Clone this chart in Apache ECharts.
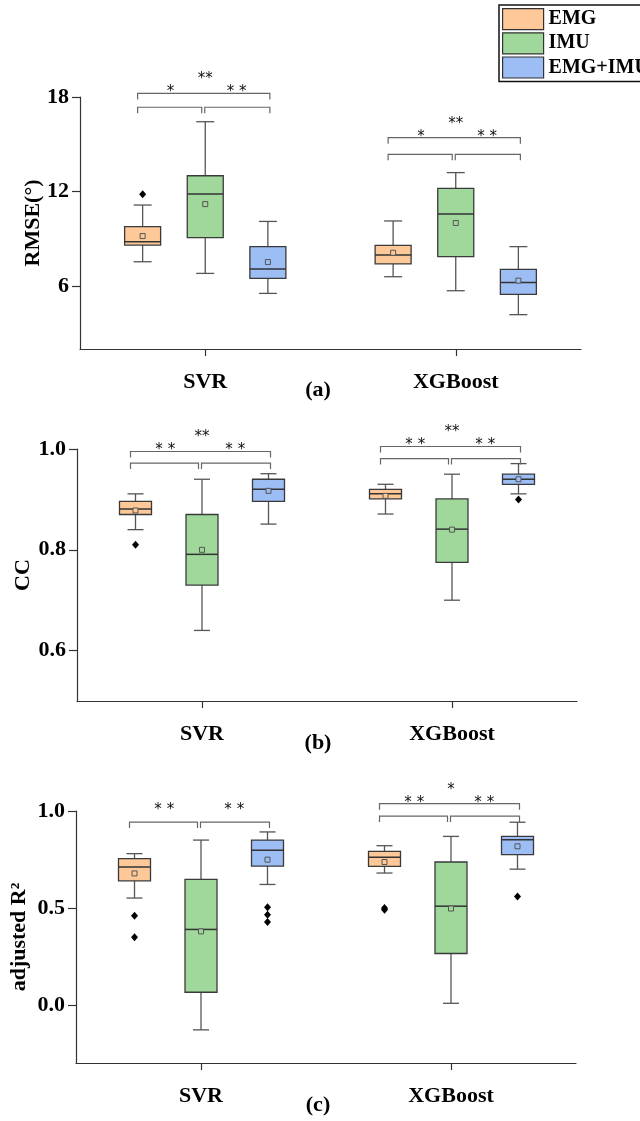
<!DOCTYPE html>
<html lang="en">
<head>
<meta charset="UTF-8">
<title>RMSE / CC / adjusted R2</title>
<script src="https://cdn.jsdelivr.net/npm/echarts@6/dist/echarts.min.js"></script>
<style>
  * { margin: 0; padding: 0; }
  body { background: #fff; }
  #main { width: 640px; height: 1121px; }
</style>
</head>
<body>
<div id="main"></div>
<script>
var categories = ['SVR', 'XGBoost'];
var groups = ['EMG', 'IMU', 'EMG+IMU'];

// each row: [min, Q1, median, Q3, max, mean], first SVR then XGBoost
var rmseEMG = [[7.54, 8.60, 8.81, 9.77, 11.14, 9.17], [6.59, 7.40, 7.97, 8.58, 10.13, 8.11]];
var rmseIMU = [[6.80, 9.07, 11.84, 13.00, 16.43, 11.20], [5.70, 7.86, 10.57, 12.20, 13.20, 10.00]];
var rmseBoth = [[5.53, 6.49, 7.08, 8.50, 10.10, 7.52], [4.18, 5.47, 6.23, 7.06, 8.50, 6.34]];
var rmseOutEMG = [[11.82], []];
var rmseOutIMU = [[], []];
var rmseOutBoth = [[], []];
var rmseSigText = [['*', '* *', '**'], ['*', '* *', '**']];
var rmseSigLevel = [[17.35, 18.23], [14.36, 15.42]];
var rmseTicks = [6, 12, 18];

var ccEMG = [[0.840, 0.870, 0.881, 0.896, 0.911, 0.878], [0.871, 0.901, 0.911, 0.920, 0.930, 0.907]];
var ccIMU = [[0.640, 0.730, 0.791, 0.870, 0.940, 0.800], [0.700, 0.775, 0.841, 0.901, 0.950, 0.840]];
var ccBoth = [[0.851, 0.896, 0.920, 0.940, 0.951, 0.917], [0.911, 0.930, 0.940, 0.950, 0.971, 0.940]];
var ccOutEMG = [[0.810], []];
var ccOutIMU = [[], []];
var ccOutBoth = [[], [0.900]];
var ccSigText = [['* *', '* *', '**'], ['* *', '* *', '**']];
var ccSigLevel = [[0.972, 0.995], [0.981, 1.005]];
var ccTicks = [0.6, 0.8, 1.0];

var r2EMG = [[0.551, 0.640, 0.711, 0.754, 0.780, 0.678], [0.680, 0.714, 0.762, 0.792, 0.821, 0.737]];
var r2IMU = [[-0.129, 0.065, 0.389, 0.647, 0.850, 0.379], [0.008, 0.265, 0.509, 0.737, 0.869, 0.497]];
var r2Both = [[0.621, 0.716, 0.797, 0.850, 0.892, 0.749], [0.700, 0.775, 0.852, 0.869, 0.942, 0.818]];
var r2OutEMG = [[0.460, 0.349], [0.490, 0.500]];
var r2OutIMU = [[], []];
var r2OutBoth = [[0.504, 0.465, 0.427], [0.559]];
var r2SigText = [['* *', '* *', null], ['* *', '* *', '*']];
var r2SigLevel = [[0.943, null], [0.974, 1.038]];
var r2Ticks = [0, 0.5, 1.0];

var fills = ['#FFC898', '#9FD89A', '#9DBDF5'];
var serif = 'Liberation Serif';
var starFont = '15px "DejaVu Sans"';

var panels = [
  { name: 'RMSE(°)', min: 2, max: 18, ticks: rmseTicks, digits: 0,
    stats: [rmseEMG, rmseIMU, rmseBoth], outs: [rmseOutEMG, rmseOutIMU, rmseOutBoth],
    sigText: rmseSigText, sigLevel: rmseSigLevel,
    left: 80, right: 59, top: 97, height: 252, step: 0.25, box: 36, nameGap: 36, tag: '(a)', tagY: 390 },
  { name: 'CC', min: 0.5, max: 1.0, ticks: ccTicks, digits: 1,
    stats: [ccEMG, ccIMU, ccBoth], outs: [ccOutEMG, ccOutIMU, ccOutBoth],
    sigText: ccSigText, sigLevel: ccSigLevel,
    left: 77, right: 63, top: 449, height: 252, step: 0.266, box: 32, nameGap: 43, tag: '(b)', tagY: 743 },
  { name: 'adjusted R²', min: -0.3, max: 1.0, ticks: r2Ticks, digits: 1,
    stats: [r2EMG, r2IMU, r2Both], outs: [r2OutEMG, r2OutIMU, r2OutBoth],
    sigText: r2SigText, sigLevel: r2SigLevel,
    left: 76, right: 64, top: 811, height: 252, step: 0.266, box: 32, nameGap: 46, tag: '(c)', tagY: 1105 }
];

function centerOf(api, p, cat, g) {
  var band = api.size([1, 0])[0];
  return api.coord([cat, p.min])[0] + (g - 1) * p.step * band;
}

function boxItem(p, g) {
  return function (params, api) {
    var cat = api.value(0);
    var cx = centerOf(api, p, cat, g);
    var Y = function (v) { return api.coord([cat, v])[1]; };
    var lo = Y(api.value(1)), q1 = Y(api.value(2)), md = Y(api.value(3)),
        q3 = Y(api.value(4)), hi = Y(api.value(5)), mean = Y(api.value(6));
    var hw = p.box / 2, cw = p.box / 4;
    var ws = { stroke: '#555', lineWidth: 1.3 };
    var kids = [
      { type: 'line', shape: { x1: cx, y1: hi, x2: cx, y2: q3 }, style: ws },
      { type: 'line', shape: { x1: cx, y1: q1, x2: cx, y2: lo }, style: ws },
      { type: 'line', shape: { x1: cx - cw, y1: hi, x2: cx + cw, y2: hi }, style: ws },
      { type: 'line', shape: { x1: cx - cw, y1: lo, x2: cx + cw, y2: lo }, style: ws },
      { type: 'rect', shape: { x: cx - hw, y: q3, width: p.box, height: q1 - q3 },
        style: { fill: fills[g], stroke: '#3a3a3a', lineWidth: 1.3 } },
      { type: 'line', shape: { x1: cx - hw, y1: md, x2: cx + hw, y2: md }, style: { stroke: '#333', lineWidth: 1.5 } },
      { type: 'rect', shape: { x: cx - 2.5, y: mean - 2.5, width: 5, height: 5 },
        style: { fill: fills[g], stroke: '#555', lineWidth: 1 } }
    ];
    p.outs[g][cat].forEach(function (v) {
      var oy = Y(v);
      kids.push({ type: 'polygon', shape: { points: [[cx, oy - 4], [cx + 3.5, oy], [cx, oy + 4], [cx - 3.5, oy]] },
        style: { fill: '#000' } });
    });
    return { type: 'group', children: kids };
  };
}

function sigItem(p) {
  return function (params, api) {
    var cat = api.value(0);
    var c0 = centerOf(api, p, cat, 0), c1 = centerOf(api, p, cat, 1), c2 = centerOf(api, p, cat, 2);
    var lev = p.sigLevel[cat], txt = p.sigText[cat];
    var ls = { fill: 'none', stroke: '#666', lineWidth: 1.2 };
    var xl = c0 - 5, xr = c2 + 2, mid = c1 - 2;
    var yl = api.coord([cat, lev[0]])[1];
    var kids = [
      { type: 'polyline', shape: { points: [[xl, yl + 6], [xl, yl], [mid - 1.5, yl], [mid - 1.5, yl + 6]] }, style: ls },
      { type: 'polyline', shape: { points: [[mid + 1.5, yl + 6], [mid + 1.5, yl], [xr, yl], [xr, yl + 6]] }, style: ls }
    ];
    var sideY = yl - 16;
    if (lev[1] != null) {
      var yu = api.coord([cat, lev[1]])[1];
      kids.push({ type: 'polyline', shape: { points: [[xl, yu + 6], [xl, yu], [xr, yu], [xr, yu + 6]] }, style: ls });
      sideY = yu - 5;
      if (txt[2]) {
        kids.push({ type: 'text', x: c1, y: yu - 18 + 4,
          style: { text: txt[2], font: starFont, fill: '#111', align: 'center', verticalAlign: 'middle' } });
      }
    }
    kids.push({ type: 'text', x: (xl + mid) / 2, y: sideY + 4,
      style: { text: txt[0], font: starFont, fill: '#111', align: 'center', verticalAlign: 'middle' } });
    kids.push({ type: 'text', x: (mid + xr) / 2, y: sideY + 4,
      style: { text: txt[1], font: starFont, fill: '#111', align: 'center', verticalAlign: 'middle' } });
    return { type: 'group', children: kids };
  };
}

var labelStyle = { color: '#000', fontFamily: serif, fontWeight: 'bold', fontSize: 22 };
var lineStyle = { color: '#333', width: 1.2 };

var option = {
  animation: false,
  backgroundColor: '#fff',
  legend: {
    orient: 'vertical', left: 499, top: 5, icon: 'rect',
    itemWidth: 41, itemHeight: 21, itemGap: 2, padding: [3, 160, 3, 3],
    borderColor: '#111', borderWidth: 1.5, selectedMode: false,
    textStyle: { color: '#000', fontFamily: serif, fontWeight: 'bold', fontSize: 20 },
    data: groups.map(function (g, k) {
      return { name: g, itemStyle: { color: fills[k], borderColor: '#333', borderWidth: 1.2 } };
    })
  },
  grid: [], xAxis: [], yAxis: [], series: [], graphic: []
};

panels.forEach(function (p, i) {
  option.grid.push({ left: p.left, right: p.right, top: p.top, height: p.height, outerBoundsMode: 'none' });
  option.xAxis.push({
    type: 'category', gridIndex: i, data: categories,
    axisLine: { show: true, onZero: false, lineStyle: lineStyle },
    axisTick: { show: true, alignWithLabel: true, length: 7, lineStyle: lineStyle },
    axisLabel: Object.assign({ margin: 22 }, labelStyle),
    splitLine: { show: false }
  });
  option.yAxis.push({
    type: 'value', gridIndex: i, min: p.min, max: p.max,
    name: p.name, nameLocation: 'middle', nameGap: p.nameGap, nameMoveOverlap: false,
    nameTextStyle: labelStyle,
    axisLine: { show: true, onZero: false, lineStyle: lineStyle },
    axisTick: { show: true, length: 8, customValues: p.ticks, lineStyle: lineStyle },
    axisLabel: Object.assign({
      margin: 11, customValues: p.ticks,
      formatter: function (v) { return v.toFixed(p.digits); }
    }, labelStyle),
    splitLine: { show: false }
  });
  groups.forEach(function (g, k) {
    option.series.push({
      type: 'custom', name: g, xAxisIndex: i, yAxisIndex: i, clip: false,
      itemStyle: { color: fills[k], borderColor: '#333', borderWidth: 1.2 },
      encode: { x: 0, y: [1, 2, 3, 4, 5] },
      data: p.stats[k].map(function (s, c) { return [c].concat(s); }),
      renderItem: boxItem(p, k)
    });
  });
  option.series.push({
    type: 'custom', xAxisIndex: i, yAxisIndex: i, clip: false, silent: true,
    encode: { x: 0, y: 1 },
    data: p.sigLevel.map(function (l, c) { return [c, l[0]]; }),
    renderItem: sigItem(p)
  });
  option.graphic.push({
    type: 'text', x: 318, y: p.tagY,
    style: { text: p.tag, font: 'bold 22px "Liberation Serif"', fill: '#000', align: 'center', verticalAlign: 'middle' }
  });
});

var chart = echarts.init(document.getElementById('main'));
chart.setOption(option);
</script>
</body>
</html>
